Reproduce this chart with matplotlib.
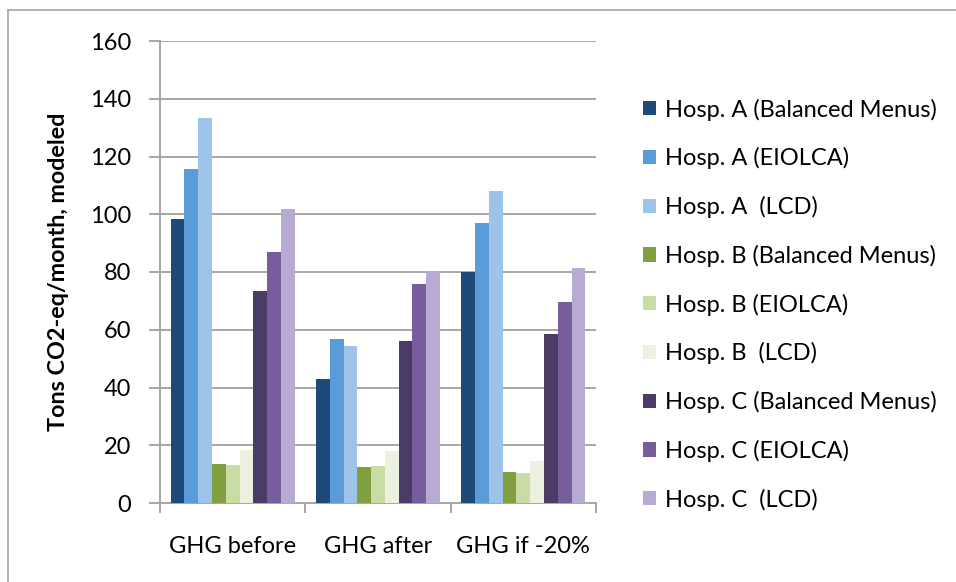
import matplotlib
matplotlib.use("Agg")
import matplotlib.pyplot as plt
from matplotlib.lines import Line2D
import numpy as np

categories = ["GHG before", "GHG after", "GHG if -20%"]
series_names = [
    "Hosp. A (Balanced Menus)",
    "Hosp. A (EIOLCA)",
    "Hosp. A  (LCD)",
    "Hosp. B (Balanced Menus)",
    "Hosp. B (EIOLCA)",
    "Hosp. B  (LCD)",
    "Hosp. C (Balanced Menus)",
    "Hosp. C (EIOLCA)",
    "Hosp. C  (LCD)",
]
hospA_balanced = [98.2, 43.0, 80.1]
hospA_eiolca = [115.8, 56.8, 97.1]
hospA_lcd = [133.3, 54.5, 108.0]
hospB_balanced = [13.5, 12.4, 10.9]
hospB_eiolca = [13.1, 12.7, 10.5]
hospB_lcd = [18.3, 18.0, 14.7]
hospC_balanced = [73.5, 56.2, 58.7]
hospC_eiolca = [86.9, 76.0, 69.6]
hospC_lcd = [101.7, 80.5, 81.4]
series_values = [hospA_balanced, hospA_eiolca, hospA_lcd,
                 hospB_balanced, hospB_eiolca, hospB_lcd,
                 hospC_balanced, hospC_eiolca, hospC_lcd]
colors = ["#1d4a78", "#5b9bd8", "#9dc3e8",
          "#80a040", "#c9dca4", "#ebf1de",
          "#4a3c66", "#775d9b", "#b8abd3"]
y_ticks = [0, 20, 40, 60, 80, 100, 120, 140, 160]

plt.rcParams['font.family'] = ['Lato', 'DejaVu Sans']

fig = plt.figure(figsize=(9.56, 5.82), dpi=100)
ax = fig.add_axes([160/956, 1-503/582, (596-160)/956, (503-41)/582])

n = len(series_values)
bw = 0.0947
x = np.arange(len(categories))
handles = []
for i, (vals, c, name) in enumerate(zip(series_values, colors, series_names)):
    off = (i - (n - 1) / 2) * bw
    b = ax.bar(x + off, vals, width=bw, color=c, label=name, zorder=3, linewidth=0)
    handles.append(b)

ax.set_xlim(-0.5, len(categories) - 0.5)
ax.set_ylim(0, 160)
ax.set_yticks(y_ticks)
ax.set_yticklabels([str(v) for v in y_ticks], fontsize=17)
ax.yaxis.grid(True, color="#a6a6a6", linewidth=1.4, zorder=0)
ax.set_axisbelow(True)

ax.set_xticks(x)
ax.set_xticklabels(categories, fontsize=17)
ax.tick_params(axis='x', length=0, pad=24)
ax.set_xticks(np.arange(-0.5, len(categories)), minor=True)
ax.tick_params(axis='x', which='minor', length=7, width=1.4, color="#a6a6a6")
ax.tick_params(axis='y', length=8, width=1.4, color="#a6a6a6", pad=13)

for s in ["top", "right"]:
    ax.spines[s].set_visible(False)
for s in ["left", "bottom"]:
    ax.spines[s].set_color("#a6a6a6")
    ax.spines[s].set_linewidth(1.4)

ax.set_ylabel("Tons CO2-eq/month, modeled", fontsize=16.8, fontweight='bold', labelpad=15)

leg = fig.legend(handles=handles, labels=series_names, loc='upper left',
                 bbox_to_anchor=(634/956, 1-89/582), frameon=False,
                 fontsize=17, handlelength=0.55, handleheight=0.55,
                 handletextpad=0.38, labelspacing=1.13, borderaxespad=0)

# outer chart-area border (left and top visible)
fig.add_artist(Line2D([8/956, 8/956], [0, 1-10/582], color="#a6a6a6", linewidth=1.2,
                      transform=fig.transFigure))
fig.add_artist(Line2D([8/956, 1], [1-10/582, 1-10/582], color="#a6a6a6", linewidth=1.2,
                      transform=fig.transFigure))

fig.savefig("out.png", dpi=100)
